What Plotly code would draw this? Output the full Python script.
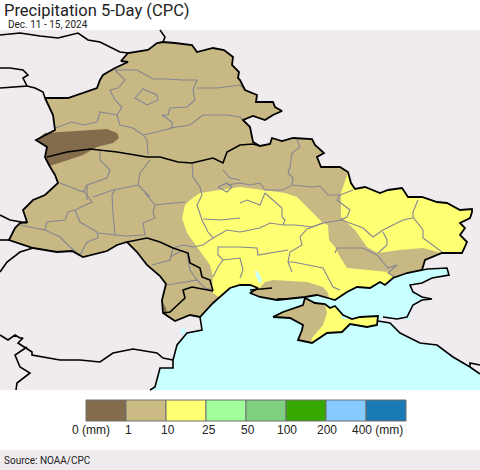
import plotly.graph_objects as go

# outlines, in map units (x right, y down)
ukraine = [(45,98),(68,98),(97,88),(100,80),(103,75),(115,68),(128,62),(121,61),(128,53),(148,50),(157,43),(163,42),
           (175,43),(192,45),(197,52),(213,48),(224,50),(233,57),(232,65),(239,72),(238,78),(240,80),(245,90),(257,95),
           (256,102),(273,102),(275,107),(282,111),(273,115),(265,120),(253,116),(243,120),(250,127),(253,142),(260,146),
           (270,144),(272,138),(282,141),(293,138),(312,139),(315,145),(324,153),(317,157),(321,167),(340,167),(348,172),
           (351,183),(355,189),(365,187),(380,193),(388,190),(402,188),(408,197),(422,197),(437,202),(447,203),(460,210),
           (472,209),(472,212),(470,218),(460,223),(465,228),(460,235),(467,242),(462,253),(442,253),(425,260),(422,270),
           (407,273),(393,278),(385,285),(380,282),(370,288),(357,287),(347,292),(335,300),(328,298),(317,295),(305,297),
           (295,298),(277,300),(260,297),(250,293),(258,288),(250,285),(240,285),(230,288),(213,303),(203,313),(200,317),
           (190,315),(175,321),(163,313),(162,300),(166,284),(160,276),(147,265),(137,252),(127,242),(117,245),(107,251),
           (83,257),(72,251),(57,252),(33,248),(9,240),(15,228),(20,223),(27,222),(23,210),(33,200),(45,195),(58,183),
           (55,175),(49,165),(45,157),(47,147),(36,140),(55,130),(53,115),(45,98)]
crimea = [(273,317),(283,312),(303,305),(305,298),(315,303),(325,304),(330,308),(335,306),(343,315),(352,319),(360,317),
          (378,316),(377,325),(367,327),(350,324),(342,332),(327,333),(312,343),(298,340),(302,330),(303,325),(290,318),(273,317)]
sea = [(150,390),(155,387),(160,368),(173,368),(173,360),(177,345),(187,333),(202,330),(200,310),(225,280),(300,285),
       (400,270),(422,268),(428,269),(447,268),(449,275),(432,278),(422,283),(410,285),(413,292),(422,297),(432,299),
       (422,300),(413,305),(407,317),(397,319),(383,317),(378,321),(390,323),(400,333),(420,343),(437,345),(453,357),
       (470,367),(480,374),(480,390),(150,390)]
water = [[(305,296),(317,295),(328,298),(335,300),(337,308),(327,307),(325,302),(315,302),(305,298)],
         [(255,270),(258,272),(262,280),(260,284),(256,276)],
         [(182,328),(187,330),(183,335),(180,333)],
         [(340,316),(348,316),(350,319),(343,319)],
         [(406,315),(410,317),(410,320),(405,320)]]

yellow_west = [(185,205),(182,218),(187,233),(197,247),(210,265),(213,277),(212,287),(213,293),(220,298),(230,288),(240,285),
               (250,286),(258,290),(265,282),(273,280),(307,282),(323,287),(328,293),(329,298),(335,300),(347,292),(357,287),
               (370,288),(380,282),(385,285),(393,278),(388,272),(368,270),(347,268),(340,257),(335,247),(329,240),(328,225),
               (323,223),(320,220),(308,208),(297,197),(285,193),(265,190),(240,187),(220,190),(200,193),(190,200),(185,205)]
yellow_east = [(348,172),(341,193),(341,217),(355,230),(367,247),(378,253),(400,250),(423,248),(442,253),(462,253),(467,242),
               (460,235),(465,228),(460,223),(470,218),(472,209),(460,210),(447,203),(437,202),(422,197),(408,197),(402,188),
               (388,190),(380,193),(365,187),(355,189),(351,183),(348,172)]
yellow_crimea = [(325,304),(327,313),(323,325),(312,338),(311,343),(327,333),(342,332),(350,324),(367,327),(377,325),(378,316),
                 (360,317),(352,319),(343,315),(335,306),(330,308),(325,304)]
brown_main = [(36,140),(45,133),(77,131),(107,129),(117,133),(119,138),(113,143),(97,147),(83,155),(67,160),(50,166),(49,165),
              (45,157),(47,147),(36,140)]
brown_small = [(163,303),(166,308),(167,315),(164,314),(163,303)]

oblast_lines = [
    [(115,70),(125,80),(118,88),(110,90),(115,100),(122,107),(117,115),(120,125),(133,128),(143,135),(147,140),(148,155)],
    [(115,70),(137,70),(153,79),(167,79),(182,80),(197,80),(193,90),(195,100),(187,107),(170,108),(168,115),(162,115),
     (172,122),(172,128),(157,132),(143,135)],
    [(197,88),(217,88),(240,85),(245,90)],
    [(135,98),(143,89),(157,95),(158,100),(147,105),(135,98)],
    [(117,115),(100,112),(97,122),(83,125),(72,122),(55,128)],
    [(170,128),(190,125),(203,115),(227,115),(240,117),(243,120)],
    [(297,140),(300,147),(292,153),(290,167),(288,173),(293,178),(292,185),(283,190),(265,190),(260,183),(250,185),(240,183),(227,185)],
    [(292,185),(312,187),(320,186),(328,195),(340,195),(353,190)],
    [(340,195),(337,200),(350,210),(347,217),(340,220)],
    [(418,200),(413,212),(413,217),(423,230),(423,238),(442,252)],
    [(413,218),(403,220),(383,230),(373,237),(363,228),(342,220),(323,223),(307,229),(300,237),(302,245),(290,252),(288,262),(292,272)],
    [(288,262),(293,262),(323,268),(333,287),(340,290)],
    [(335,253),(337,248),(363,248),(377,255),(388,268),(397,265),(388,273),(395,277)],
    [(383,232),(387,240),(387,245),(378,253)],
    [(240,232),(250,230),(260,228),(270,223),(283,225),(285,220),(282,217),(282,208),(273,200),(265,193)],
    [(240,203),(247,200),(260,205),(265,193)],
    [(283,225),(295,225),(312,227),(323,223)],
    [(240,247),(257,248),(258,255),(288,250)],
    [(202,195),(197,205),(202,220),(208,232),(213,238),(203,245),(193,247),(183,245),(173,248)],
    [(240,218),(220,220),(203,219)],
    [(240,232),(227,230),(213,238)],
    [(240,247),(218,247),(218,255),(223,260),(240,258),(243,270),(240,278)],
    [(223,260),(218,267),(213,277)],
    [(185,202),(155,205),(153,212),(155,218),(143,223),(145,235),(127,236),(115,235),(113,213),(112,195),(115,190)],
    [(83,190),(92,202),(75,210),(68,212),(65,220),(47,222),(45,230),(20,225)],
    [(75,210),(80,222),(97,232),(98,238),(87,242),(80,255)],
    [(45,230),(60,237),(70,247),(80,255)],
    [(98,233),(115,235)],
    [(145,193),(155,205)],
    [(152,265),(170,260),(173,248)],
    [(170,257),(183,250)],
    [(187,253),(190,270),(197,280),(167,285)],
    [(197,280),(205,288),(213,290)],
    [(100,150),(100,160),(110,170),(107,178),(87,185),(83,192),(60,183)],
    [(87,185),(87,200)],
    [(150,160),(140,173),(138,185),(113,190),(93,197)],
    [(138,185),(150,197)],
    [(192,163),(193,177),(200,187),(202,195)],
    [(223,170),(230,178),(240,180)],
    [(218,187),(227,183),(232,187),(227,192),(218,187)],
]
border_lines = [
    [(47,157),(67,152),(90,149),(117,152),(147,157),(160,157),(178,162),(192,163),(213,158),(223,163),(227,152),(240,145),(253,144),(260,146)],
    [(127,242),(147,238),(160,242),(173,248),(188,253),(190,263),(200,268),(202,277),(210,280),(212,288),(213,291)],
    [(213,291),(192,287),(183,290),(185,298),(170,312),(163,313)],
    [(0,35),(20,33),(40,36),(58,38),(78,33),(88,40),(100,42),(120,52),(128,53)],
    [(160,30),(165,37),(163,42)],
    [(0,68),(10,68),(23,70),(28,75),(23,78),(27,86),(0,88)],
    [(27,86),(35,88),(43,92),(45,98)],
    [(0,215),(10,220),(27,223)],
    [(0,240),(9,240)],
    [(33,248),(20,252),(7,262),(0,272)],
    [(0,335),(8,340),(15,335),(20,338),(23,338),(18,343),(32,352),(32,355),(60,360),(80,360),(100,362),(113,353),(133,349),(157,353),(163,358),(173,360)],
    [(27,347),(15,355),(20,367),(30,373),(17,383),(16,390)],
    [(200,317),(202,330),(187,333),(177,345),(173,360),(173,368),(160,368),(155,387),(150,390)],
    [(422,270),(428,269),(447,268),(449,275),(432,278),(422,283),(410,285),(413,292),(422,297),(432,299),(422,300),(413,305),(407,317),(397,319),(383,317)],
    [(378,321),(390,323),(400,333),(420,343),(437,345),(453,357),(470,367),(480,374)],
    [(470,367),(470,363),(480,365)],
    [(250,290),(272,288)],
    [(277,299),(288,299)],
]
coast_lines = [ukraine, crimea]

legend_colors = ["#836C4B", "#CDBB85", "#FFFF73", "#A0FF9A", "#7FCF80", "#38A800", "#85CBFF", "#1A7AB5"]
legend_left = [86, 126, 166, 206, 246, 286, 326, 366]
legend_labels = ["0 (mm)", "1", "10", "25", "50", "100", "200", "400 (mm)"]
legend_label_x = [91, 128, 168, 209, 248, 287, 327, 377]

TAN = "#C8B884"
YELLOW = "#FFFF73"
BROWN = "#836C4B"
SEA = "#C8FFFF"
BACK = "#EFEBEF"
INK = "#222222"


def add_fill(fig, pts, color):
    fig.add_trace(go.Scatter(x=[p[0] for p in pts], y=[p[1] for p in pts], mode="lines", fill="toself",
                             fillcolor=color, line=dict(width=0, color=color), hoverinfo="skip"))


def add_line(fig, pts, color, width):
    fig.add_trace(go.Scatter(x=[p[0] for p in pts], y=[p[1] for p in pts], mode="lines",
                             line=dict(color=color, width=width), hoverinfo="skip"))


fig = go.Figure()
add_fill(fig, sea, SEA)
add_fill(fig, ukraine, TAN)
add_fill(fig, crimea, TAN)
add_fill(fig, yellow_west, YELLOW)
add_fill(fig, yellow_east, YELLOW)
add_fill(fig, yellow_crimea, YELLOW)
add_fill(fig, brown_main, BROWN)
add_fill(fig, brown_small, BROWN)
for w in water:
    add_fill(fig, w, SEA)
for l in oblast_lines:
    add_line(fig, l, "#868692", 1.1)
for l in border_lines:
    add_line(fig, l, "black", 1.6)
for l in coast_lines:
    add_line(fig, l, "black", 1.8)

fig.add_trace(go.Bar(x=[v + 20 for v in legend_left], y=[21] * 8, base=400, width=40,
                     marker=dict(color=legend_colors, line=dict(color="#6E6E6E", width=1)), hoverinfo="skip"))

fig.add_shape(type="rect", x0=0, x1=480, y0=30, y1=390, fillcolor=BACK, line_width=0, layer="below")
fig.add_shape(type="rect", x0=0, x1=480, y0=450, y1=470, fillcolor=BACK, line_width=0, layer="below")

for lab, lx in zip(legend_labels, legend_label_x):
    fig.add_annotation(x=lx, y=430, text=lab, showarrow=False, xanchor="center", yanchor="middle",
                       font=dict(family="Liberation Sans", size=12, color=INK))
fig.add_annotation(x=3, y=10, text="Precipitation 5-Day (CPC)", showarrow=False, xanchor="left", yanchor="middle",
                   borderpad=0, font=dict(family="Roboto", size=16.5, color=INK))
fig.add_annotation(x=7, y=24.5, text="Dec. 11 - 15, 2024", showarrow=False, xanchor="left", yanchor="middle",
                   borderpad=0, font=dict(family="Roboto", size=10, color=INK))
fig.add_annotation(x=3, y=460, text="Source: NOAA/CPC", showarrow=False, xanchor="left", yanchor="middle",
                   borderpad=0, font=dict(family="Roboto", size=10, color=INK))

fig.update_xaxes(range=[0, 480], visible=False, fixedrange=True)
fig.update_yaxes(range=[470, 0], visible=False, fixedrange=True)
fig.update_layout(width=480, height=470, autosize=False, margin=dict(l=0, r=0, t=0, b=0), showlegend=False,
                  paper_bgcolor="white", plot_bgcolor="white")
fig.write_html("out.html", config=dict(displayModeBar=False),
               post_script="document.body.style.margin='0';document.body.style.overflow='hidden';")
